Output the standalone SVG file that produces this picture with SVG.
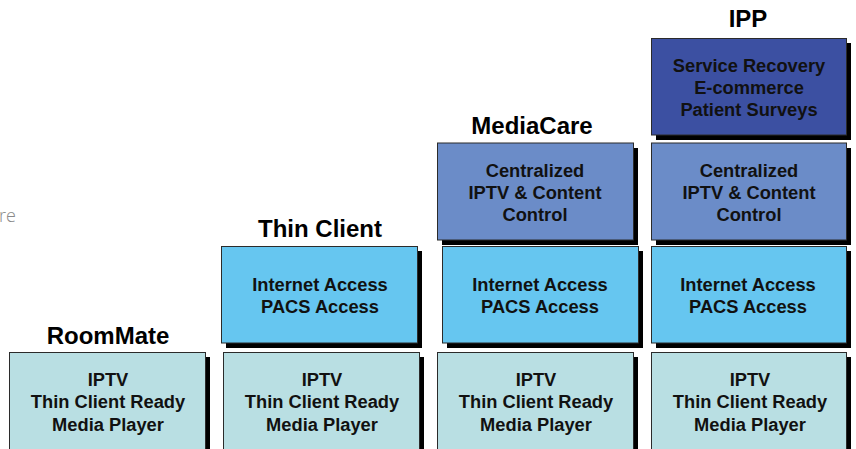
<svg xmlns="http://www.w3.org/2000/svg" width="856" height="449" viewBox="0 0 856 449">
<style>
.sh{fill:#000}
.bx{stroke:#2b2b2b;stroke-width:1}
.b1{fill:#b9dfe3}
.b2{fill:#66c6f0}
.b3{fill:#6b8cc8}
.b4{fill:#3c50a2}
.t{font-family:"Liberation Sans",Arial,sans-serif;font-weight:bold;font-size:18.3px;fill:#111;text-anchor:middle}
.h{font-family:"Liberation Sans",Arial,sans-serif;font-weight:bold;font-size:24px;fill:#000;text-anchor:middle}
.side{font-family:"Open Sans","Liberation Sans",sans-serif;font-weight:300;font-size:18px;fill:#888}
</style>
<rect width="856" height="449" fill="#fff"/>
<text class="side" x="-1" y="222">re</text>
<g id="titles">
<text class="h" x="108" y="344">RoomMate</text>
<text class="h" x="320" y="237">Thin Client</text>
<text class="h" x="532" y="134">MediaCare</text>
<text class="h" x="748" y="27">IPP</text>
</g>
<g id="roommate-base">
<rect class="sh" x="14" y="357" width="196" height="100"/>
<rect class="bx b1" x="9.5" y="352.5" width="196" height="100"/>
<text class="t" x="108" y="386">IPTV</text>
<text class="t" x="108" y="408">Thin Client Ready</text>
<text class="t" x="108" y="431">Media Player</text>
</g>
<g id="thinclient-base">
<rect class="sh" x="228" y="357" width="196" height="100"/>
<rect class="bx b1" x="223.5" y="352.5" width="196" height="100"/>
<text class="t" x="322" y="386">IPTV</text>
<text class="t" x="322" y="408">Thin Client Ready</text>
<text class="t" x="322" y="431">Media Player</text>
</g>
<g id="thinclient-internet">
<rect class="sh" x="226" y="251" width="196" height="97"/>
<rect class="bx b2" x="221.5" y="246.5" width="196" height="96.5"/>
<text class="t" x="320" y="291">Internet Access</text>
<text class="t" x="320" y="313">PACS Access</text>
</g>
<g id="mediacare-base">
<rect class="sh" x="442" y="357" width="196" height="100"/>
<rect class="bx b1" x="437.5" y="352.5" width="196" height="100"/>
<text class="t" x="536" y="386">IPTV</text>
<text class="t" x="536" y="408">Thin Client Ready</text>
<text class="t" x="536" y="431">Media Player</text>
</g>
<g id="mediacare-internet">
<rect class="sh" x="447" y="251" width="196" height="97"/>
<rect class="bx b2" x="442.5" y="246.5" width="196" height="96.5"/>
<text class="t" x="540" y="291">Internet Access</text>
<text class="t" x="540" y="313">PACS Access</text>
</g>
<g id="mediacare-central">
<rect class="sh" x="442" y="148" width="196" height="97"/>
<rect class="bx b3" x="437.5" y="143" width="196" height="97"/>
<text class="t" x="535" y="177">Centralized</text>
<text class="t" x="535" y="199">IPTV &amp; Content</text>
<text class="t" x="535" y="221">Control</text>
</g>
<g id="ipp-base">
<rect class="sh" x="656" y="357" width="195" height="100"/>
<rect class="bx b1" x="651.5" y="352.5" width="195" height="100"/>
<text class="t" x="750" y="386">IPTV</text>
<text class="t" x="750" y="408">Thin Client Ready</text>
<text class="t" x="750" y="431">Media Player</text>
</g>
<g id="ipp-internet">
<rect class="sh" x="656" y="251" width="195" height="97"/>
<rect class="bx b2" x="651.5" y="246.5" width="195" height="96.5"/>
<text class="t" x="748" y="291">Internet Access</text>
<text class="t" x="748" y="313">PACS Access</text>
</g>
<g id="ipp-central">
<rect class="sh" x="656" y="148" width="195" height="97"/>
<rect class="bx b3" x="651.5" y="143" width="195" height="97"/>
<text class="t" x="749" y="177">Centralized</text>
<text class="t" x="749" y="199">IPTV &amp; Content</text>
<text class="t" x="749" y="221">Control</text>
</g>
<g id="ipp-services">
<rect class="sh" x="656" y="43" width="195" height="97"/>
<rect class="bx b4" x="651.5" y="38.5" width="195" height="96.5"/>
<text class="t" x="749" y="72">Service Recovery</text>
<text class="t" x="749" y="94">E-commerce</text>
<text class="t" x="749" y="116">Patient Surveys</text>
</g>
<g id="connectors"></g>
</svg>
